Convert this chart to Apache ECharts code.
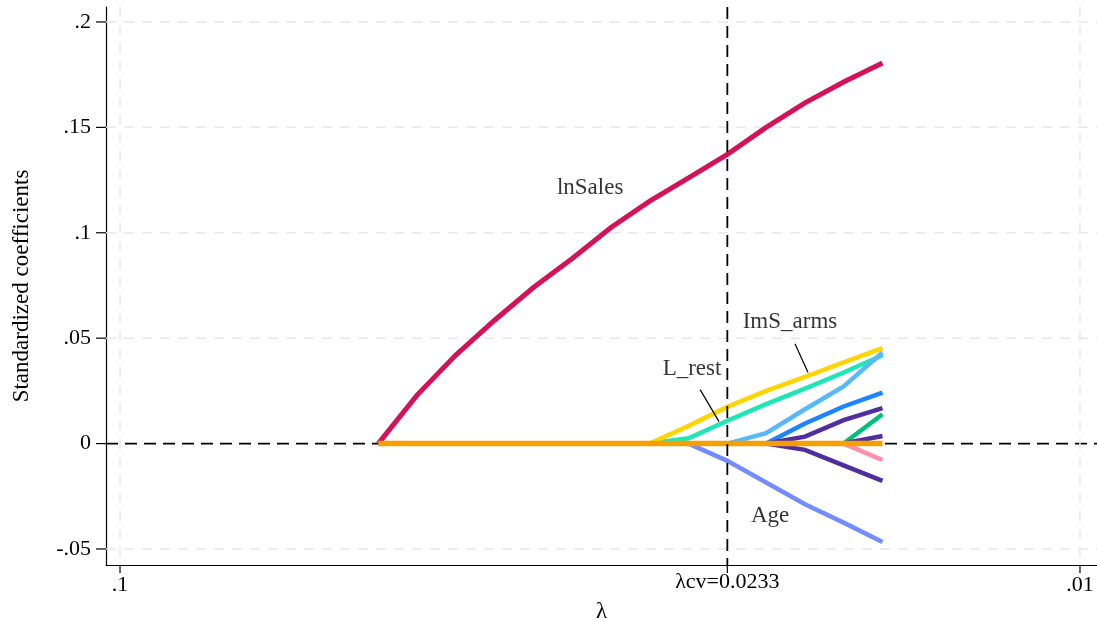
<!DOCTYPE html>
<html>
<head>
<meta charset="utf-8">
<script src="https://cdn.jsdelivr.net/npm/echarts@6/dist/echarts.min.js"></script>
<style>
  html, body { margin: 0; padding: 0; background: #ffffff; }
  #chart { width: 1097px; height: 622px; }
</style>
</head>
<body>
<div id="chart"></div>
<script>
// λ grid of the lasso path (largest first) and the cross-validated λ
const lambdas = [0.05383, 0.04904, 0.04469, 0.04072, 0.03710, 0.03380, 0.03080,
                 0.02807, 0.02557, 0.0233, 0.02123, 0.01934, 0.01763, 0.01606];
const lambdaCV = 0.0233;

// Standardized coefficient paths, one value per λ
const lnSales  = [0, 0.0230, 0.0420, 0.0585, 0.0740, 0.0878, 0.1025, 0.1150, 0.1260, 0.1372, 0.1500, 0.1616, 0.1715, 0.1805];
const ImS_arms = [0, 0, 0, 0, 0, 0, 0, 0, 0.0084, 0.0174, 0.0250, 0.0316, 0.0385, 0.0453];
const L_rest   = [0, 0, 0, 0, 0, 0, 0, 0, 0.0025, 0.0108, 0.0187, 0.0261, 0.0337, 0.0419];
const Age      = [0, 0, 0, 0, 0, 0, 0, 0, 0, -0.0082, -0.0185, -0.0288, -0.0375, -0.0467];
const path5    = [0, 0, 0, 0, 0, 0, 0, 0, 0, 0, 0.0049, 0.0163, 0.0271, 0.0432];
const path6    = [0, 0, 0, 0, 0, 0, 0, 0, 0, 0, 0, 0.0095, 0.0176, 0.0242];
const path7    = [0, 0, 0, 0, 0, 0, 0, 0, 0, 0, 0, 0.0033, 0.0111, 0.0168];
const path8    = [0, 0, 0, 0, 0, 0, 0, 0, 0, 0, 0, -0.0030, -0.0103, -0.0177];
const path9    = [0, 0, 0, 0, 0, 0, 0, 0, 0, 0, 0, 0, 0, 0.0139];
const path10   = [0, 0, 0, 0, 0, 0, 0, 0, 0, 0, 0, 0, 0, 0.0036];
const path11   = [0, 0, 0, 0, 0, 0, 0, 0, 0, 0, 0, 0, 0, -0.0078];
const unselected = [0, 0, 0, 0, 0, 0, 0, 0, 0, 0, 0, 0, 0, 0];

// Axis ticks and their labels
const yTicks = [-0.05, 0, 0.05, 0.1, 0.15, 0.2];
const yTickLabels = ['-.05', '0', '.05', '.1', '.15', '.2'];
const xTicks = [0.1, 0.01];
const xTickLabels = ['.1', '.01'];

// Text annotations (placed in data coordinates) and their leader lines
const noteNames  = ['lnSales', 'ImS_arms', 'L_rest', 'Age'];
const noteLambda = [0.03238, 0.02005, 0.02536, 0.02103];
const noteValue  = [0.1214, 0.0579, 0.0356, -0.0342];
const leaderFrom = [[0.01981, 0.0474], [0.02487, 0.0256]];
const leaderTo   = [[0.01920, 0.0337], [0.02377, 0.0104]];

const FONT = 'Liberation Serif';
const REF_DASH = [12, 7];
const GRID_DASH = [10, 8];

function pairs(values) {
  return lambdas.map((l, i) => [l, values[i]]);
}

function tickLabel(value, ticks, labels, tol) {
  for (let i = 0; i < ticks.length; i++) {
    if (Math.abs(value - ticks[i]) < tol) return labels[i];
  }
  return '';
}

const paths = [
  { name: 'Age',      data: Age,      color: '#748CFF' },
  { name: 'L_rest',   data: L_rest,   color: '#1CE8B5' },
  { name: 'path5',    data: path5,    color: '#55B9FA' },
  { name: 'ImS_arms', data: ImS_arms, color: '#FFD400' },
  { name: 'path6',    data: path6,    color: '#1A85FF' },
  { name: 'path7',    data: path7,    color: '#512D9E' },
  { name: 'path8',    data: path8,    color: '#512D9E' },
  { name: 'path9',    data: path9,    color: '#00BF7F' },
  { name: 'path10',   data: path10,   color: '#512D9E' },
  { name: 'path11',   data: path11,   color: '#FF8FAA' },
  { name: 'lnSales',  data: lnSales,  color: '#D41159', width: 5 },
  { name: 'unselected', data: unselected, color: '#F5A000', width: 5.5 }
];

const lineSeries = paths.map(p => ({
  type: 'line',
  name: p.name,
  data: pairs(p.data),
  showSymbol: false,
  symbol: 'none',
  z: 3,
  lineStyle: { color: p.color, width: p.width || 4.5, cap: 'butt', join: 'miter' },
  emphasis: { disabled: true }
}));

// Horizontal grid lines, y ticks and the dashed zero reference line
const yGridSeries = {
  type: 'custom',
  name: 'ygrid',
  clip: false,
  silent: true,
  z: 1,
  data: yTicks.map(v => [lambdaCV, v]),
  renderItem: function (params, api) {
    const cs = params.coordSys;
    const v = api.value(1);
    const y = api.coord([api.value(0), v])[1];
    const line = v === 0
      ? { stroke: '#000000', lineWidth: 1.8, lineDash: REF_DASH }
      : { stroke: '#e8e8e8', lineWidth: 1.5, lineDash: GRID_DASH };
    return {
      type: 'group',
      children: [
        { type: 'line', shape: { x1: cs.x, y1: y, x2: cs.x + cs.width, y2: y }, style: line },
        { type: 'line', shape: { x1: cs.x - 10, y1: y, x2: cs.x, y2: y },
          style: { stroke: '#000000', lineWidth: 1.2 } }
      ]
    };
  }
};

// Vertical grid lines and x ticks
const xGridSeries = {
  type: 'custom',
  name: 'xgrid',
  clip: false,
  silent: true,
  z: 1,
  data: xTicks.map(l => [l, 0]),
  renderItem: function (params, api) {
    const cs = params.coordSys;
    const x = api.coord([api.value(0), 0])[0];
    const bottom = cs.y + cs.height;
    return {
      type: 'group',
      children: [
        { type: 'line', shape: { x1: x, y1: cs.y, x2: x, y2: bottom },
          style: { stroke: '#e8e8e8', lineWidth: 1.5, lineDash: GRID_DASH } },
        { type: 'line', shape: { x1: x, y1: bottom, x2: x, y2: bottom + 8 },
          style: { stroke: '#000000', lineWidth: 1.2 } }
      ]
    };
  }
};

// Dashed line at the cross-validated λ, with its axis tick and label
const cvSeries = {
  type: 'custom',
  name: 'cv',
  clip: false,
  silent: true,
  z: 5,
  data: [[lambdaCV, 0]],
  renderItem: function (params, api) {
    const cs = params.coordSys;
    const x = api.coord([api.value(0), 0])[0];
    const bottom = cs.y + cs.height;
    return {
      type: 'group',
      children: [
        { type: 'line', shape: { x1: x, y1: cs.y, x2: x, y2: bottom },
          style: { stroke: '#000000', lineWidth: 1.8, lineDash: REF_DASH } },
        { type: 'line', shape: { x1: x, y1: bottom, x2: x, y2: bottom + 8 },
          style: { stroke: '#000000', lineWidth: 1.2 } },
        { type: 'text',
          style: { text: 'λcv=' + lambdaCV, x: x, y: bottom + 6, align: 'center', verticalAlign: 'top',
                   fontFamily: FONT, fontSize: 22, fill: '#000000' } }
      ]
    };
  }
};

// Annotation text
const noteSeries = {
  type: 'scatter',
  name: 'notes',
  silent: true,
  z: 6,
  symbolSize: 0,
  data: noteNames.map((n, i) => [noteLambda[i], noteValue[i], n]),
  label: {
    show: true,
    position: 'inside',
    formatter: p => p.data[2],
    fontFamily: FONT,
    fontSize: 23,
    color: '#000000'
  }
};

const leaderSeries = {
  type: 'lines',
  name: 'leaders',
  coordinateSystem: 'cartesian2d',
  silent: true,
  z: 6,
  lineStyle: { color: '#000000', width: 1.2, opacity: 1 },
  data: leaderFrom.map((f, i) => ({ coords: [f, leaderTo[i]] }))
};

const chart = echarts.init(document.getElementById('chart'), null, { renderer: 'canvas' });
chart.setOption({
  animation: false,
  backgroundColor: '#ffffff',
  grid: { left: 106, right: 0, top: 7, bottom: 57, containLabel: false, outerBoundsMode: 'none' },
  xAxis: {
    type: 'log',
    logBase: 10,
    inverse: true,
    min: 0.0096,
    max: 0.10342,
    name: 'λ',
    nameLocation: 'middle',
    nameGap: 32,
    nameTextStyle: { fontFamily: FONT, fontSize: 23, color: '#000000' },
    axisLine: { show: true, onZero: false, lineStyle: { color: '#000000', width: 1.2 } },
    axisTick: { show: false },
    splitLine: { show: false },
    axisLabel: {
      margin: 9,
      fontFamily: FONT,
      fontSize: 22,
      color: '#000000',
      formatter: v => tickLabel(v, xTicks, xTickLabels, 1e-6)
    }
  },
  yAxis: {
    type: 'value',
    min: -0.0576,
    max: 0.2071,
    name: 'Standardized coefficients',
    nameLocation: 'middle',
    nameGap: 73,
    nameTextStyle: { fontFamily: FONT, fontSize: 23, color: '#000000' },
    axisLine: { show: true, onZero: false, lineStyle: { color: '#000000', width: 1.2 } },
    axisTick: { show: false },
    splitLine: { show: false },
    axisLabel: {
      margin: 15,
      fontFamily: FONT,
      fontSize: 22,
      color: '#000000',
      formatter: v => tickLabel(v, yTicks, yTickLabels, 1e-9)
    }
  },
  series: [yGridSeries, xGridSeries].concat(lineSeries, [cvSeries, leaderSeries, noteSeries])
});
</script>
</body>
</html>
